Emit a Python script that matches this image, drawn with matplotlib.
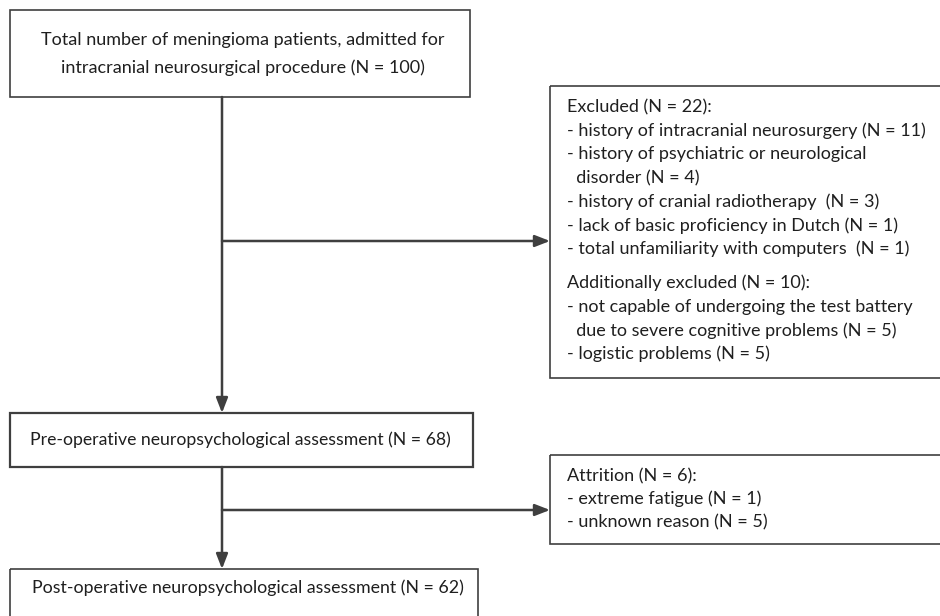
import matplotlib.pyplot as plt
from matplotlib.patches import Rectangle

plt.rcParams["font.family"] = ["Lato", "DejaVu Sans"]

W, H = 940, 616
LINE = "#3f3f3f"
TXT = "#1f1f1f"

top_text = ["Total number of meningioma patients, admitted for",
            "intracranial neurosurgical procedure (N = 100)"]
excluded_text = ["Excluded (N = 22):",
                 "- history of intracranial neurosurgery (N = 11)",
                 "- history of psychiatric or neurological",
                 "  disorder (N = 4)",
                 "- history of cranial radiotherapy  (N = 3)",
                 "- lack of basic proficiency in Dutch (N = 1)",
                 "- total unfamiliarity with computers  (N = 1)"]
additional_text = ["Additionally excluded (N = 10):",
                   "- not capable of undergoing the test battery",
                   "  due to severe cognitive problems (N = 5)",
                   "- logistic problems (N = 5)"]
pre_text = "Pre-operative neuropsychological assessment (N = 68)"
attrition_text = ["Attrition (N = 6):",
                  "- extreme fatigue (N = 1)",
                  "- unknown reason (N = 5)"]
post_text = "Post-operative neuropsychological assessment (N = 62)"

# box layout in pixel units: x, y (top), width, height
boxes = {
    "top": (10, 10, 460, 87),
    "excl": (550, 86, 400, 292),
    "pre": (10, 413, 463, 54),
    "attr": (550, 455, 400, 89),
    "post": (10, 569, 468, 60),
}

fig = plt.figure(figsize=(W / 100, H / 100), dpi=100)
ax = fig.add_axes([0, 0, 1, 1])
ax.set_xlim(0, W)
ax.set_ylim(H, 0)
ax.axis("off")

for name, (x, y, w, h) in boxes.items():
    lw = 1.6 if name == "pre" else 1.2
    ax.add_patch(Rectangle((x, y), w, h, fill=False, ec=LINE, lw=lw))

fs = 13
# top box, centred
tx, ty, tw, th = boxes["top"]
for i, s in enumerate(top_text):
    ax.text(243, 40 + i * 28, s, ha="center", va="center", fontsize=fs, color=TXT)

# excluded box
ex = 567
for i, s in enumerate(excluded_text):
    ax.text(ex, 107 + i * 23.7, s, ha="left", va="center", fontsize=fs, color=TXT)
for i, s in enumerate(additional_text):
    ax.text(ex, 283 + i * 23.7, s, ha="left", va="center", fontsize=fs, color=TXT)

# pre / post boxes
ax.text(30, 440, pre_text, ha="left", va="center", fontsize=12.7, color=TXT)
ax.text(32, 588, post_text, ha="left", va="center", fontsize=12.8, color=TXT)

# attrition box
for i, s in enumerate(attrition_text):
    ax.text(ex, 476 + i * 23, s, ha="left", va="center", fontsize=fs, color=TXT)

# connectors
cx = 222
arrow = dict(arrowstyle="-|>,head_length=0.9,head_width=0.35", color=LINE, lw=1.8,
             shrinkA=0, shrinkB=0)
ax.annotate("", xy=(cx, boxes["pre"][1]), xytext=(cx, ty + th), arrowprops=arrow)
ax.annotate("", xy=(550, 241), xytext=(cx, 241), arrowprops=arrow)
ax.annotate("", xy=(cx, boxes["post"][1]), xytext=(cx, 467), arrowprops=arrow)
ax.annotate("", xy=(550, 510), xytext=(cx, 510), arrowprops=arrow)

fig.savefig("out.png", dpi=100)
